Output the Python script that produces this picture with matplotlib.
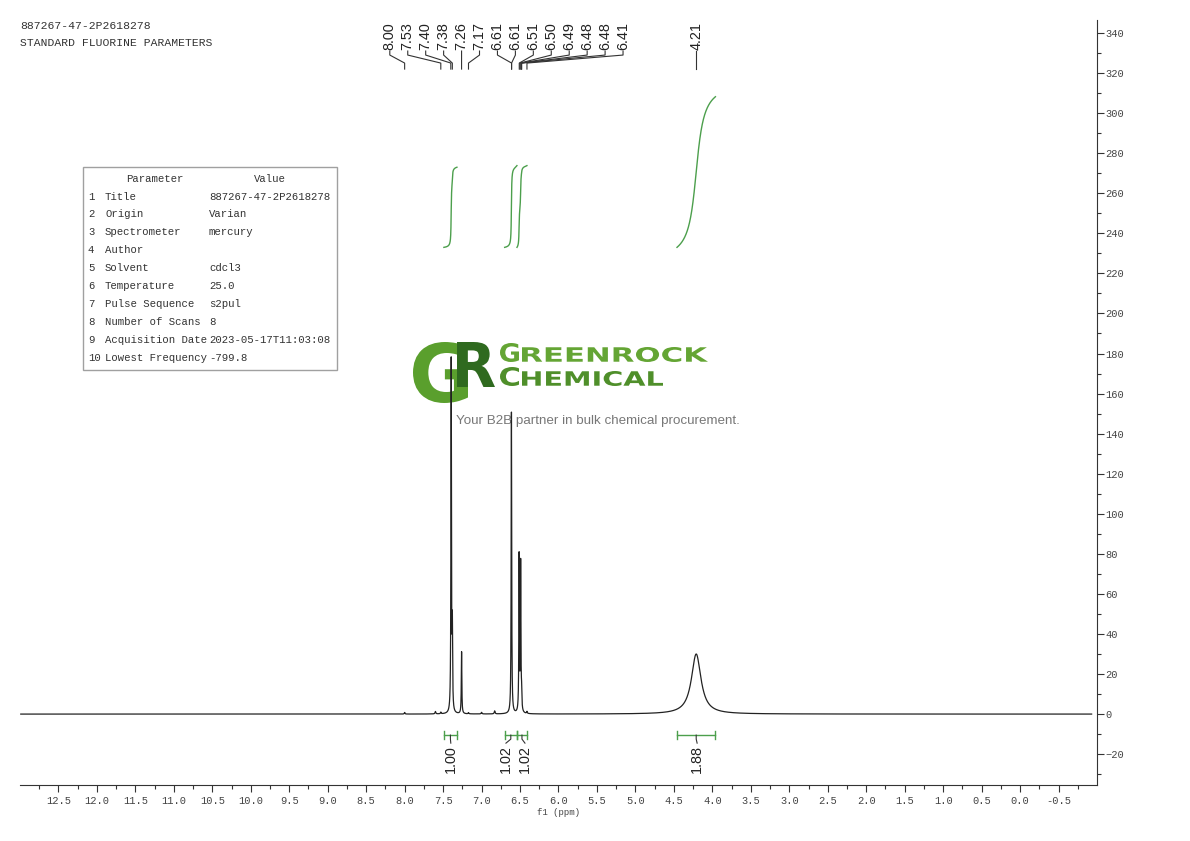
import numpy as np
import matplotlib
matplotlib.use("Agg")
import matplotlib.pyplot as plt
from matplotlib.textpath import TextPath
from matplotlib.patches import PathPatch, Rectangle
from matplotlib.font_manager import FontProperties
from matplotlib.transforms import Affine2D, IdentityTransform

W, H = 1190, 841

# header text
sample_id = "887267-47-2P2618278"
experiment = "STANDARD FLUORINE PARAMETERS"

# peak list: position (ppm), height, half width (ppm)
peak_ppm = [8.00, 7.60, 7.53, 7.395, 7.38, 7.26, 7.17, 7.00, 6.83, 6.612, 6.512, 6.492, 6.48, 6.41, 4.21]
peak_height = [0.8, 1.2, 0.8, 176, 40, 31, 0.6, 0.8, 1.5, 151, 78, 74, 8, 1.0, 30]
peak_hw = [0.005, 0.006, 0.005, 0.004, 0.004, 0.004, 0.005, 0.006, 0.006, 0.004, 0.004, 0.004, 0.004, 0.005, 0.075]

# labelled peaks (top)
label_ppm = [8.00, 7.53, 7.40, 7.38, 7.26, 7.17, 6.61, 6.61, 6.51, 6.50, 6.49, 6.48, 6.48, 6.41]
label_single = 4.21

# integrals
int_ranges = [(7.49, 7.32), (6.70, 6.54), (6.54, 6.41), (4.46, 3.96)]
int_values = [1.00, 1.02, 1.02, 1.88]
int_label_ppm = [7.40, 6.683, 6.436, 4.198]

# parameter table
param_names = ["Title", "Origin", "Spectrometer", "Author", "Solvent", "Temperature",
               "Pulse Sequence", "Number of Scans", "Acquisition Date", "Lowest Frequency"]
param_values = ["887267-47-2P2618278", "Varian", "mercury", "", "cdcl3", "25.0",
                "s2pul", "8", "2023-05-17T11:03:08", "-799.8"]

x_ticks = np.arange(12.5, -0.51, -0.5)
y_ticks = np.arange(-20, 341, 20)

green = "#4c9f4c"
mono = "Liberation Mono"

fig = plt.figure(figsize=(W / 100, H / 100), dpi=100)
fig.patch.set_facecolor("white")
ax = fig.add_axes([20 / W, 1 - 785 / H, (1097 - 20) / W, (785 - 20) / H])
ax.set_facecolor("none")

# spectrum
x = np.linspace(13.0, -1.0, 28000)
y = np.zeros_like(x)
for p, h, w in zip(peak_ppm, peak_height, peak_hw):
    y += h / (1 + ((x - p) / w) ** 2)
keep = (x <= 12.99) & (x >= -0.93)
ax.plot(x[keep], y[keep], color="#222222", lw=0.9, zorder=3)

ax.set_xlim(13.0, -1.0)
ax.set_ylim(-35.4, 346.5)

# integral curves and bars
for (a, b), v, lp in zip(int_ranges, int_values, int_label_ppm):
    m = (x <= a) & (x >= b)
    c = np.cumsum(y[m])
    c = (c - c[0]) / (c[-1] - c[0])
    ax.plot(x[m], 233 + 40 * v * c, color=green, lw=1.0, zorder=2)
    ax.plot([a, b], [-10.5, -10.5], color=green, lw=1.0)
    ax.plot([a, a], [-12.5, -8.5], color=green, lw=1.0)
    ax.plot([b, b], [-12.5, -8.5], color=green, lw=1.0)
    mid = (a + b) / 2
    ax.plot([mid, mid, lp], [-10.5, -12.5, -14.5], color="#333333", lw=0.8)
    ax.text(lp, -15.5, f"{v:.2f}", rotation=90, ha="center", va="top",
            fontsize=10.4, family="Liberation Sans", color="#222222")

# peak labels with leader lines
lx0 = 12.5 - (390 - 59) / 76.85
lx1 = 12.5 - (623 - 59) / 76.85
label_x = np.linspace(lx0, lx1, len(label_ppm))
for lx, p in zip(label_x, label_ppm):
    ax.plot([lx, lx, p, p], [331, 329, 325, 322], color="#333333", lw=0.8, clip_on=False)
    ax.text(lx, 331.5, f"{p:.2f}", rotation=90, ha="center", va="bottom",
            fontsize=10.4, family="Liberation Sans", color="#222222", clip_on=False)
ax.plot([label_single, label_single], [322, 331], color="#333333", lw=0.8)
ax.text(label_single, 331.5, f"{label_single:.2f}", rotation=90, ha="center", va="bottom",
        fontsize=10.4, family="Liberation Sans", color="#222222")

# axes styling
for s in ["top", "left"]:
    ax.spines[s].set_visible(False)
ax.spines["right"].set_color("#333333")
ax.spines["bottom"].set_color("#333333")
ax.yaxis.tick_right()
ax.set_xticks(x_ticks)
ax.set_xticklabels([f"{t:.1f}".replace("-0.0", "0.0") for t in x_ticks])
ax.set_xticks(np.arange(12.75, -0.8, -0.5), minor=True)
ax.set_yticks(y_ticks)
ax.set_yticks(np.arange(-30, 341, 10), minor=True)
ax.tick_params(axis="both", which="major", length=5, width=0.8, color="#333333",
               labelsize=7.5, labelcolor="#444444")
ax.tick_params(axis="both", which="minor", length=3, width=0.8, color="#333333")
ax.tick_params(axis="y", which="both", right=True, left=False, pad=1)
ax.tick_params(axis="x", pad=3)
for lab in ax.get_xticklabels() + ax.get_yticklabels():
    lab.set_family(mono)
ax.set_xlabel("f1 (ppm)", family=mono, fontsize=6.5, color="#444444", labelpad=1.5)


def fx(px):
    return px / W


def fy(py):
    return 1 - py / H


# header
fig.text(fx(20), fy(26), sample_id, family=mono, fontsize=8.2, color="#333333", va="center")
fig.text(fx(20), fy(43), experiment, family=mono, fontsize=8.2, color="#333333", va="center")

# parameter table
fig.add_artist(Rectangle((fx(83), fy(370)), fx(337) - fx(83), fy(167) - fy(370),
                         transform=fig.transFigure, fc="white", ec="#a0a0a0", lw=1.0, zorder=4))
fig.text(fx(155), fy(179), "Parameter", family=mono, fontsize=7.7, color="#333333",
         ha="center", va="center", zorder=5)
fig.text(fx(270), fy(179), "Value", family=mono, fontsize=7.7, color="#333333",
         ha="center", va="center", zorder=5)
for i, (n, v) in enumerate(zip(param_names, param_values)):
    yy = fy(196.5 + i * 17.9)
    fig.text(fx(88), yy, str(i + 1), family=mono, fontsize=7.7, color="#333333", va="center", zorder=5)
    fig.text(fx(105), yy, n, family=mono, fontsize=7.7, color="#333333", va="center", zorder=5)
    fig.text(fx(209), yy, v, family=mono, fontsize=7.7, color="#333333", va="center", zorder=5)


# logo drawn behind the spectrum
def box_text(s, x0, y0, x1, y1, color, family="DejaVu Sans"):
    tp = TextPath((0, 0), s, size=100, prop=FontProperties(family=family, weight="bold"))
    bb = tp.get_extents()
    tr = (Affine2D().translate(-bb.x0, -bb.y0)
          .scale((x1 - x0) / bb.width, (y1 - y0) / bb.height)
          .translate(x0, H - y1))
    fig.add_artist(PathPatch(tr.transform_path(tp), fc=color, ec="none",
                             transform=IdentityTransform(), zorder=-1))


box_text("G", 413, 342, 468, 403, "#5a9f2d")
box_text("R", 457, 342, 495, 387, "#2f6a1f")
box_text("G", 500, 343, 519, 362, "#64a534")
box_text("REENROCK", 522, 347, 708, 362, "#64a534")
box_text("C", 500, 367, 519, 386, "#4f8f2a")
box_text("HEMICAL", 522, 371, 663, 386, "#4f8f2a")
fig.text(fx(456), fy(421), "Your B2B partner in bulk chemical procurement.",
         family="Liberation Sans", fontsize=9.6, color="#777777", va="center", zorder=-1)

fig.savefig("out.png", dpi=100, facecolor="white")
